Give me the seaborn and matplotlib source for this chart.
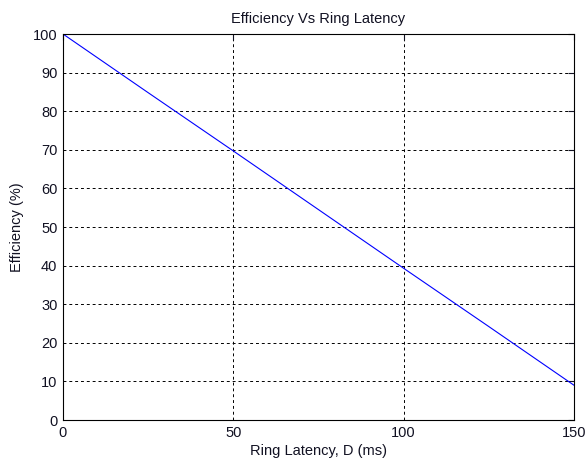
import matplotlib
matplotlib.use("Agg")
import matplotlib.pyplot as plt
import seaborn as sns
import pandas as pd

# Ring latency (ms) and the resulting efficiency (%)
latency_ms = [0, 25, 50, 75, 100, 125, 150]
efficiency_pct = [100, 84.8, 69.7, 54.5, 39.3, 24.2, 9.0]
x_ticks = [0, 50, 100, 150]
y_ticks = [0, 10, 20, 30, 40, 50, 60, 70, 80, 90, 100]

sns.set_theme(style="white")
plt.rcParams["font.family"] = ["Liberation Sans", "DejaVu Sans"]

df = pd.DataFrame({"latency": latency_ms, "efficiency": efficiency_pct})

fig = plt.figure(figsize=(5.87, 4.62), dpi=100)
ax = fig.add_axes([0.1073, 0.0909, 0.8706, 0.8355])

sns.lineplot(data=df, x="latency", y="efficiency", ax=ax, color="#0000ff",
             linewidth=0.8, estimator=None)

ax.set_xlim(0, 150)
ax.set_ylim(0, 100)
ax.set_xticks(x_ticks)
ax.set_yticks(y_ticks)
ax.tick_params(direction="in", length=4, width=0.8, colors="#111122",
               labelsize=10.5, top=True, right=True, pad=4)
ax.grid(True, color="black", linestyle=(0, (3, 3)), linewidth=0.7)
for side in ax.spines.values():
    side.set_color("black")
    side.set_linewidth(0.8)

ax.set_title("Efficiency Vs Ring Latency", fontsize=10.5, pad=8, color="#111122")
ax.set_xlabel("Ring Latency, D (ms)", fontsize=10.5, labelpad=3, color="#111122")
ax.set_ylabel("Efficiency (%)", fontsize=10.5, labelpad=6, color="#111122")

fig.savefig("out.png", dpi=100, facecolor="white")
